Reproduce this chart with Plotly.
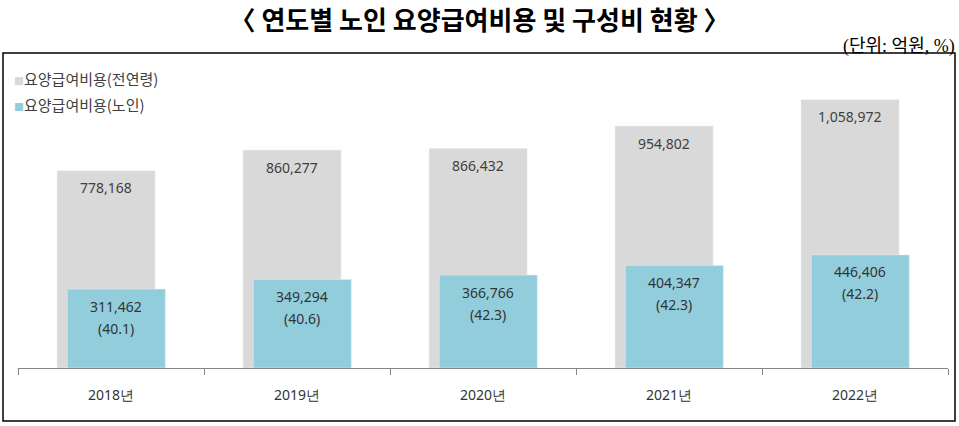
import plotly.graph_objects as go

years = ["2018년", "2019년", "2020년", "2021년", "2022년"]
total_cost = [778168, 860277, 866432, 954802, 1058972]
elderly_cost = [311462, 349294, 366766, 404347, 446406]
elderly_share = [40.1, 40.6, 42.3, 42.3, 42.2]
series_names = ["요양급여비용(전연령)", "요양급여비용(노인)"]

GRAY = "#d9d9d9"
BLUE = "#92cddc"
W, H = 959, 426
L, R, T, B = 18, 11, 64, 58
pw, ph = W - L - R, H - T - B

fig = go.Figure()
fig.add_bar(x=years, y=total_cost, name=series_names[0], marker_color=GRAY,
            width=0.527, offset=-0.29, hoverinfo="skip")
fig.add_bar(x=years, y=elderly_cost, name=series_names[1], marker_color=BLUE,
            width=0.527, offset=-0.235, hoverinfo="skip")

cat_px = pw / len(years)
gray_shift = (-0.29 + 0.2635) * cat_px
blue_shift = (-0.235 + 0.2635) * cat_px
ann = []
for yr, tv, ev, sh in zip(years, total_cost, elderly_cost, elderly_share):
    ann.append(dict(x=yr, y=tv, xref="x", yref="y", text=f"{tv:,}", showarrow=False,
                    xshift=gray_shift, yshift=-17, yanchor="middle",
                    font=dict(family="Noto Sans", size=14, color="#404040")))
    ann.append(dict(x=yr, y=ev, xref="x", yref="y", text=f"{ev:,}", showarrow=False,
                    xshift=blue_shift, yshift=-17, yanchor="middle",
                    font=dict(family="Noto Sans", size=14, color="#333333")))
    ann.append(dict(x=yr, y=ev, xref="x", yref="y", text=f"({sh})", showarrow=False,
                    xshift=blue_shift, yshift=-39, yanchor="middle",
                    font=dict(family="Noto Sans", size=14, color="#333333")))

def px_x(p):
    return (p - L) / pw

def px_y(p):
    return (H - B - p) / ph

# legend (custom)
for name, col, ypx in zip(series_names, [GRAY, BLUE], [78, 105]):
    ann.append(dict(x=px_x(12), y=px_y(ypx), xref="paper", yref="paper", xanchor="left",
                    yanchor="middle", showarrow=False,
                    text=f"<span style='color:{col};font-size:10px'>■</span>{name}",
                    font=dict(family="Noto Sans CJK KR", size=15, color="#404040")))

# unit
ann.append(dict(x=px_x(957), y=px_y(47), xref="paper", yref="paper", xanchor="right",
                yanchor="middle", showarrow=False, text="(단위: 억원, %)",
                font=dict(family="Liberation Serif, Noto Sans CJK KR", size=18, color="#000000")))

fig.update_layout(
    width=W, height=H,
    margin=dict(l=L, r=R, t=T, b=B),
    paper_bgcolor="white", plot_bgcolor="white",
    barmode="overlay", showlegend=False,
    title=dict(text="〈 연도별 노인 요양급여비용 및 구성비 현황 〉", x=0.5, xanchor="center",
               xref="container", y=1 - 21 / H, yanchor="middle", yref="container",
               font=dict(family="Noto Sans CJK KR", size=26, color="#000000", weight="bold")),
    xaxis=dict(type="category", range=[-0.5, 4.5], showline=True, linecolor="#868686",
               linewidth=1, ticks="outside", tickson="boundaries", ticklen=6,
               tickcolor="#868686", showgrid=False, ticklabelstandoff=14,
               tickfont=dict(family="Noto Sans", size=14, color="#333333")),
    yaxis=dict(range=[0, 1200000], visible=False, showgrid=False),
    annotations=ann,
    shapes=[dict(type="rect", xref="paper", yref="paper",
                 x0=px_x(3), x1=px_x(955), y0=px_y(421), y1=px_y(53),
                 line=dict(color="#000000", width=1.5), fillcolor="rgba(0,0,0,0)",
                 layer="above")],
)

fig.write_html("out.html", config={"displayModeBar": False},
               post_script="document.body.style.margin='0';document.body.style.overflow='hidden';")
